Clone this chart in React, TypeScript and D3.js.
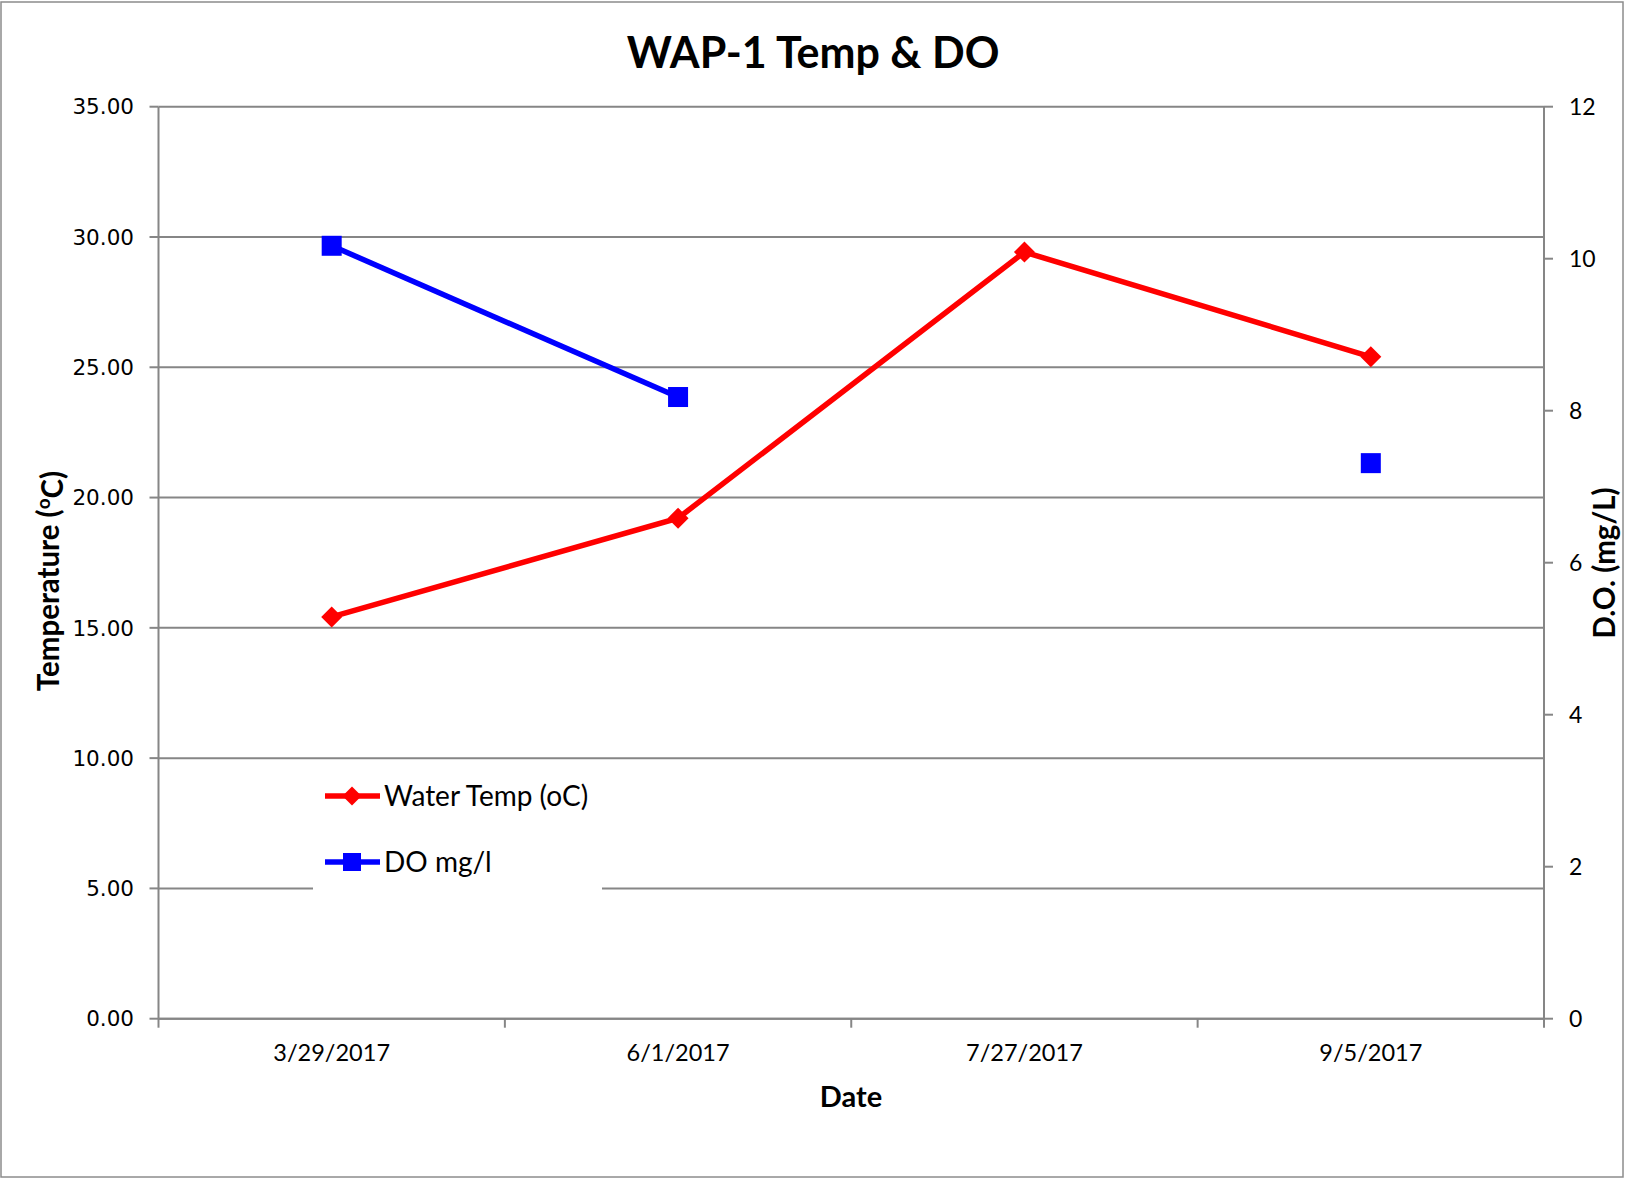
import React from "react";
import * as d3 from "d3";

const categories = ["3/29/2017", "6/1/2017", "7/27/2017", "9/5/2017"];
const waterTemp: (number | null)[] = [15.42, 19.21, 29.42, 25.4];
const dissolvedO2: (number | null)[] = [10.17, 8.18, null, 7.31];
const tempTicks = [0, 5, 10, 15, 20, 25, 30, 35];
const doTicks = [0, 2, 4, 6, 8, 10, 12];
const seriesNames = ["Water Temp (oC)", "DO mg/l"];

const W = 1625;
const H = 1179;
const M = { left: 158.5, right: 1544, top: 106.7, bottom: 1018.7 };
const GRID = "#868686";
const FONT = "Lato, 'Open Sans', sans-serif";
const TICKFONT = "'DejaVu Sans', Verdana, sans-serif";

export default function App() {
  const x = d3.scaleBand<string>().domain(categories).range([M.left, M.right]);
  const yT = d3.scaleLinear().domain([0, 35]).range([M.bottom, M.top]);
  const yD = d3.scaleLinear().domain([0, 12]).range([M.bottom, M.top]);
  const cx = (c: string) => (x(c) as number) + x.bandwidth() / 2;

  const lineT = d3
    .line<number | null>()
    .defined((d) => d !== null)
    .x((_, i) => cx(categories[i]))
    .y((d) => yT(d as number));
  const lineD = d3
    .line<number | null>()
    .defined((d) => d !== null)
    .x((_, i) => cx(categories[i]))
    .y((d) => yD(d as number));

  const bounds = [M.left, ...categories.map((c) => (x(c) as number) + x.bandwidth())];

  const diamond = (px: number, py: number, r: number) =>
    `M${px},${py - r}L${px + r},${py}L${px},${py + r}L${px - r},${py}Z`;

  const legX = 325;
  const legY1 = 796;
  const legY2 = 862;

  return (
    <svg
      width={W}
      height={H}
      style={{ position: "absolute", left: 0, top: 0, background: "#fff" }}
    >
      <rect x={1} y={2} width={W - 3} height={H - 4} fill="#fff" stroke="#8c8c8c" strokeWidth={1.5} />
      {/* title */}
      <text x={813} y={68} textAnchor="middle" fontFamily={FONT} fontWeight="bold" fontSize={43} fill="#000">
        WAP-1 Temp &amp; DO
      </text>
      {/* gridlines */}
      {tempTicks.map((t) => (
        <line key={"g" + t} x1={M.left} x2={M.right} y1={yT(t)} y2={yT(t)} stroke={GRID} strokeWidth={2} />
      ))}
      {/* left axis */}
      <line x1={M.left} x2={M.left} y1={M.top} y2={M.bottom} stroke={GRID} strokeWidth={2} />
      {tempTicks.map((t) => (
        <g key={"lt" + t}>
          <line x1={M.left - 9} x2={M.left} y1={yT(t)} y2={yT(t)} stroke={GRID} strokeWidth={2} />
          <text x={134} y={yT(t)} dy="0.36em" textAnchor="end" fontFamily={TICKFONT} fontSize={21.5} fill="#000">
            {t.toFixed(2)}
          </text>
        </g>
      ))}
      {/* right axis */}
      <line x1={M.right} x2={M.right} y1={M.top} y2={M.bottom} stroke={GRID} strokeWidth={2} />
      {doTicks.map((t) => (
        <g key={"rt" + t}>
          <line x1={M.right} x2={M.right + 9} y1={yD(t)} y2={yD(t)} stroke={GRID} strokeWidth={2} />
          <text x={1569} y={yD(t)} dy="0.36em" textAnchor="start" fontFamily={FONT} fontSize={23} fill="#000">
            {t}
          </text>
        </g>
      ))}
      {/* x axis */}
      <line x1={M.left} x2={M.right} y1={M.bottom} y2={M.bottom} stroke={GRID} strokeWidth={2} />
      {bounds.map((b, i) => (
        <line key={"xt" + i} x1={b} x2={b} y1={M.bottom} y2={M.bottom + 9} stroke={GRID} strokeWidth={2} />
      ))}
      {categories.map((c) => (
        <text key={c} x={cx(c)} y={1053} dy="0.36em" textAnchor="middle" fontFamily={FONT} fontSize={23.5} fill="#000">
          {c}
        </text>
      ))}
      {/* axis titles */}
      <text x={851} y={1097} dy="0.36em" textAnchor="middle" fontFamily={FONT} fontWeight="bold" fontSize={29} fill="#000">
        Date
      </text>
      <text
        transform={`translate(48,581) rotate(-90)`}
        dy="0.36em"
        textAnchor="middle"
        fontFamily={FONT}
        fontWeight="bold"
        fontSize={29.5}
        fill="#000"
      >
        Temperature (
        <tspan dy="-0.45em" fontSize={19}>o</tspan>
        <tspan dy="0.45em">C)</tspan>
      </text>
      <text
        transform={`translate(1604,563) rotate(-90)`}
        dy="0.36em"
        textAnchor="middle"
        fontFamily={FONT}
        fontWeight="bold"
        fontSize={29.5}
        fill="#000"
      >
        D.O. (mg/L)
      </text>
      {/* series */}
      <path d={lineD(dissolvedO2) || ""} fill="none" stroke="#0000ff" strokeWidth={5.5} />
      <path d={lineT(waterTemp) || ""} fill="none" stroke="#ff0000" strokeWidth={5.5} />
      {dissolvedO2.map((v, i) =>
        v === null ? null : (
          <rect key={"d" + i} x={cx(categories[i]) - 10} y={yD(v) - 10} width={20} height={20} fill="#0000ff" />
        )
      )}
      {waterTemp.map((v, i) =>
        v === null ? null : (
          <path key={"t" + i} d={diamond(cx(categories[i]), yT(v), 10.5)} fill="#ff0000" />
        )
      )}
      {/* legend */}
      <rect x={313} y={767} width={289} height={135} fill="#fff" />
      <line x1={legX} x2={legX + 55} y1={legY1} y2={legY1} stroke="#ff0000" strokeWidth={5.5} />
      <path d={diamond(legX + 27, legY1, 9.5)} fill="#ff0000" />
      <text x={384} y={legY1} dy="0.36em" fontFamily={FONT} fontSize={28} fill="#000">
        {seriesNames[0]}
      </text>
      <line x1={legX} x2={legX + 55} y1={legY2} y2={legY2} stroke="#0000ff" strokeWidth={5.5} />
      <rect x={legX + 18} y={legY2 - 9} width={18} height={18} fill="#0000ff" />
      <text x={384} y={legY2} dy="0.36em" fontFamily={FONT} fontSize={28} fill="#000">
        {seriesNames[1]}
      </text>
    </svg>
  );
}
